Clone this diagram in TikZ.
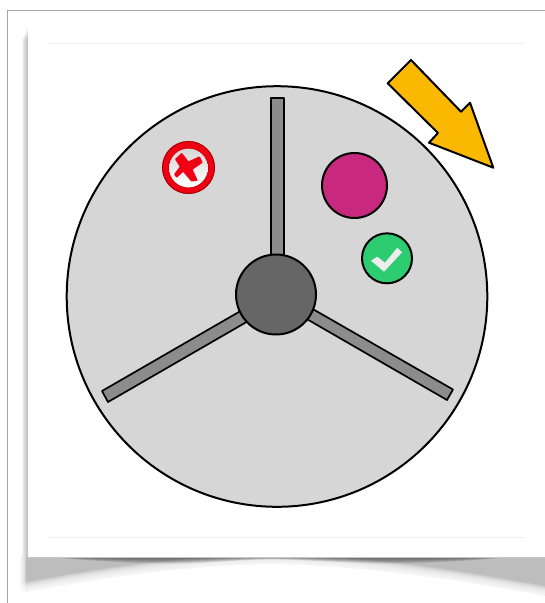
\documentclass[tikz,border=0pt]{standalone}
\usetikzlibrary{calc}
\definecolor{discgray}{RGB}{214,214,214}
\definecolor{spokegray}{RGB}{140,140,140}
\definecolor{hubgray}{RGB}{102,102,102}
\definecolor{arrowgold}{RGB}{250,185,0}
\definecolor{pinkdot}{RGB}{200,40,125}
\definecolor{greendot}{RGB}{46,204,113}
\definecolor{redmark}{RGB}{240,0,20}
\tikzset{
  outline/.style={draw=black,line width=2pt,line join=round},
  spoke/.style={outline,fill=spokegray,line width=1.7pt},
}
\begin{document}
\begin{tikzpicture}[x=1pt,y=-1pt]
\useasboundingbox (0,0) rectangle (545,603);
\fill[white] (0,0) rectangle (545,603);
% frame lines
\draw[gray!70,line width=1pt] (7.5,603) -- (7.5,10) -- (545,10);
% left shadow
\foreach \k in {0,...,6}{
  \fill[black,opacity=0.045] ({27.5-\k},{26+2.2*\k}) rectangle (28,558);
}
% bottom shadow
\begin{scope}
  \clip (20,557) rectangle (545,603);
  \fill[black!26] (20,557) rectangle (545,603);
  \foreach \k in {0,...,13}{
    \fill[white,opacity=0.15,yshift=\k*0.7pt] (15,593)
     .. controls (90,579) and (170,565) .. (272,563)
     .. controls (370,565) and (460,579) .. (550,596)
     -- (550,603) -- (15,603) -- cycle;
  }
  \fill[white] (15,594)
     .. controls (90,580) and (170,566) .. (272,564)
     .. controls (370,566) and (460,580) .. (550,597)
     -- (550,603) -- (15,603) -- cycle;
  \foreach \k in {0,...,5}{
    \fill[white,opacity=0.3] (20,557) rectangle ({21+\k},603);
  }
  \foreach \k in {1,...,8}{
    \fill[black,opacity=0.075] (50,557)
      .. controls (110,{557+\k*0.7}) and (150,{557+\k*0.9}) .. (190,{557+\k*0.8})
      .. controls (225,{557+\k*0.6}) and (250,{557+\k*0.3}) .. (272,{557+\k*0.3})
      .. controls (295,{557+\k*0.3}) and (325,{557+\k*0.6}) .. (370,{557+\k*0.8})
      .. controls (410,{557+\k*0.9}) and (450,{557+\k*0.7}) .. (510,557) -- cycle;
  }
\end{scope}
% page
\fill[white] (28,22) rectangle (545,557.5);
\draw[gray!45,line width=0.6pt] (28,557.7) -- (545,557.7);
% faint inner frame
\draw[black!6,line width=0.5pt] (49,537) -- (525,537);
\draw[black!5,line width=0.5pt] (49,43.5) -- (525,43.5);
% disc
\draw[outline,fill=discgray] (277,296.5) circle[radius=210.3];
% spokes
\draw[spoke] (271,256) -- (271,98) -- (284,98) -- (284,256) -- cycle;
\draw[spoke] (250,320) -- (108,402) -- (102,391) -- (244,309) -- cycle;
\draw[spoke] (305,318) -- (447,400) -- (453,389.5) -- (311,308) -- cycle;
% hub
\draw[outline,fill=hubgray] (276,294.5) circle[radius=40];
% arrow
\draw[outline,fill=arrowgold] (411,60) -- (387.7,83.3) -- (438,133) -- (429,142.7)
  -- (493.3,167.7) -- (470,102.7) -- (461,111.7) -- cycle;
% pink dot
\draw[outline,fill=pinkdot] (354.5,185.5) circle[radius=32.5];
% check dot
\draw[outline,fill=greendot] (387,258.3) circle[radius=25];
\fill[black!7!white] (371,260.7) -- (377.3,256.7) -- (385,262.7) -- (397.3,247.7)
  -- (402,252.3) -- (384,271.7) -- cycle;
% cross badge
\fill[redmark] (188.5,167.5) circle[radius=26.3];
\draw[red!65!black,line width=1pt] (188.5,167.5) circle[radius=26];
\draw[red!80!black,line width=0.8pt] (188.5,168) circle[radius=19.8];
\shade[top color=black!16,bottom color=white] (188.5,168) circle[radius=19.4];
\filldraw[redmark,line width=1.6pt,line join=round] (181.7,154) -- (188.3,162.3) -- (199.3,157.3) -- (201.7,162.3)
  -- (191.7,169.3) -- (196.7,180) -- (191.7,180.7) -- (183.3,170.7) -- (176.7,176.7)
  -- (175,174.3) -- (180.7,166.7) -- (176,159.3) -- cycle;
\end{tikzpicture}
\end{document}
